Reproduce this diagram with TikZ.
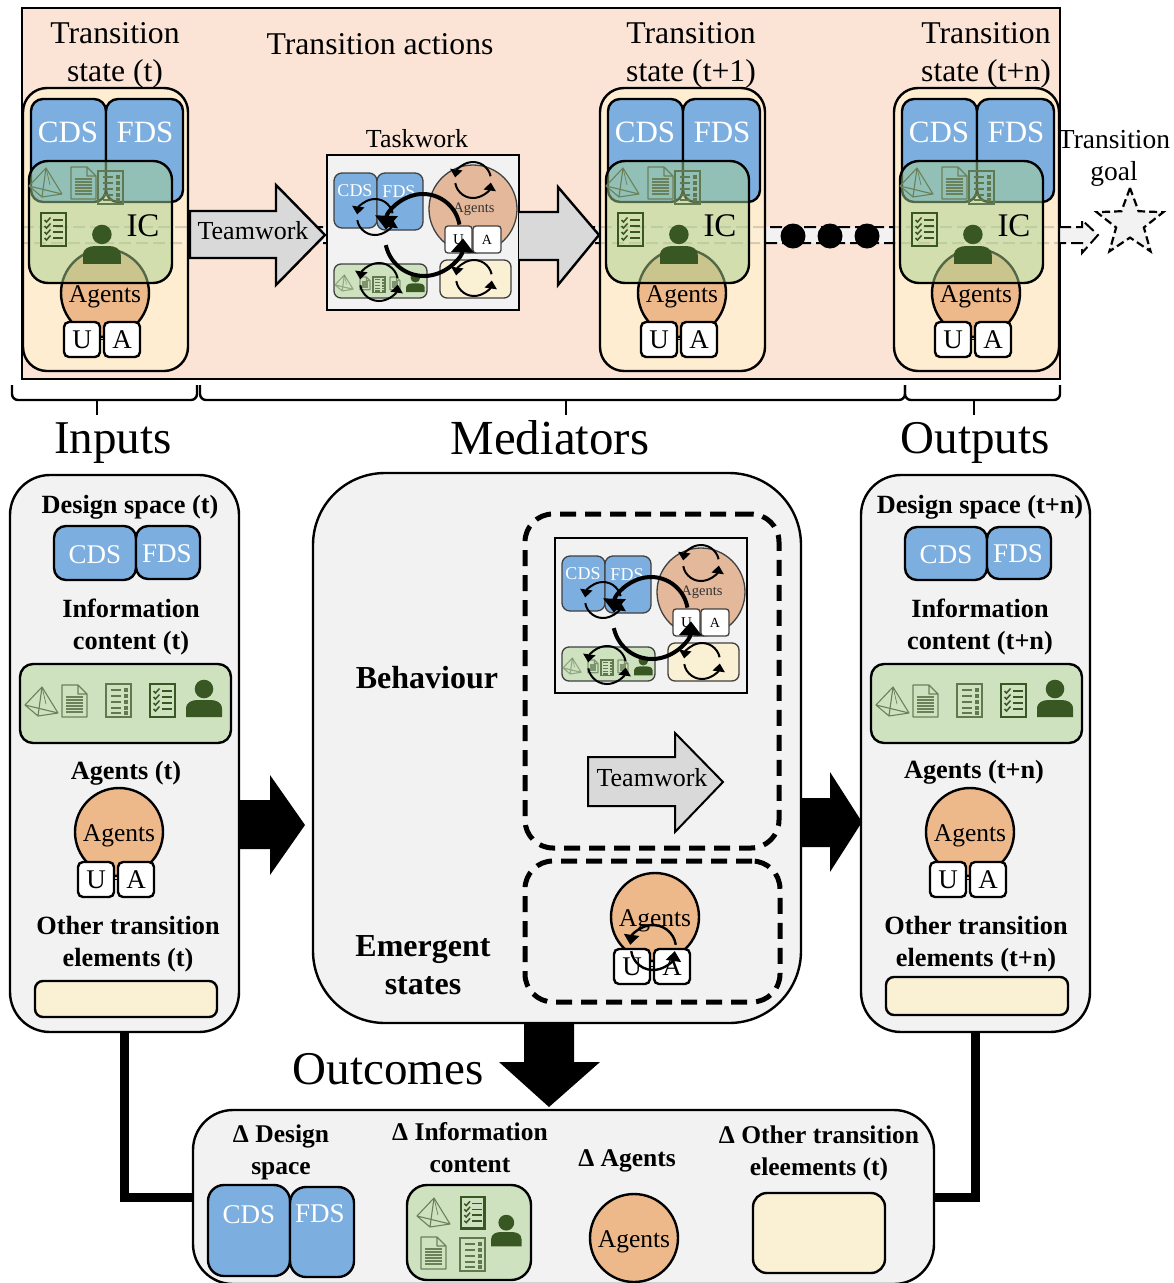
\documentclass[tikz,border=0pt]{standalone}
\usepackage{fontspec}
\setmainfont{Liberation Serif}
\usetikzlibrary{arrows.meta,shapes.geometric,calc}
\definecolor{peach}{HTML}{FBE4D6}
\definecolor{outerc}{HTML}{FFEFD0}
\definecolor{bluec}{HTML}{7CAFDF}
\definecolor{greenic}{HTML}{A9D18E}
\definecolor{greenb}{HTML}{CFE2BF}
\definecolor{agentc}{HTML}{EDB98B}
\definecolor{agentm}{HTML}{E4B89A}
\definecolor{creamc}{HTML}{FAF1D4}
\definecolor{panelc}{HTML}{F2F2F2}
\definecolor{arrowc}{HTML}{D9D9D9}
\definecolor{iconc}{HTML}{385723}
\newcommand{\fs}[2]{\fontsize{#1}{#2}\selectfont}
% style, name, x1, y1, x2, y2, text
\newcommand{\BX}[7]{%
  \pgfmathsetmacro{\bxw}{(#5)-(#3)}\pgfmathsetmacro{\bxh}{(#6)-(#4)}%
  \pgfmathsetmacro{\bxx}{((#3)+(#5))/2}\pgfmathsetmacro{\bxy}{((#4)+(#6))/2}%
  \node[#1,minimum width=\bxw,minimum height=\bxh] (#2) at (\bxx,\bxy) {#7};}
\newcommand{\TX}[5][]{\node[txt,#1] (#2) at (#3,#4) {#5};}
% prefix, left, top
\newcommand{\UA}[3]{%
  \BX{uabox}{#1u}{#2}{#3}{#2+36}{#3+35}{U}
  \BX{uabox}{#1a}{#2+40}{#3}{#2+76}{#3+35}{A}
  \draw[line width=1.5pt] (#1u) -- (#1a);}
% x, y, r, lw, tip length
\newcommand{\CYC}[5]{%
  \draw[line width=#4pt,-{Triangle[length=#5pt,width=#5pt*1.5]},shift={(#1,#2)}] (12:#3pt) arc[start angle=12,end angle=172,radius=#3pt];
  \draw[line width=#4pt,-{Triangle[length=#5pt,width=#5pt*1.5]},shift={(#1,#2)}] (190:#3pt) arc[start angle=190,end angle=352,radius=#3pt];}
\tikzset{
  x=1pt,y=-1pt,
  txt/.style={inner sep=0pt,align=center,font=\fs{26}{32}},
  bigt/.style={txt,font=\fs{31.7}{38}},
  hd/.style={txt,font=\fs{47}{54}},
  bt/.style={txt,font=\fs{26.3}{32}\bfseries},
  bt3/.style={txt,font=\fs{25.5}{32}\bfseries},
  bt2/.style={txt,font=\fs{32}{38}\bfseries},
  boxbase/.style={draw=black,line width=2.4pt,inner sep=0pt,outer sep=0pt},
  outerbox/.style={boxbase,fill=outerc,fill opacity=.85,draw opacity=1,rounded corners=24pt},
  bluebox/.style={boxbase,fill=bluec,rounded corners=12pt},
  icbox/.style={boxbase,fill=greenic,fill opacity=.5,rounded corners=19pt},
  greenbox/.style={boxbase,fill=greenb,rounded corners=13pt},
  creambox/.style={boxbase,fill=creamc,rounded corners=8pt},
  uabox/.style={boxbase,fill=white,rounded corners=5pt,font=\fs{27}{27}},
  agent/.style={boxbase,circle,fill=agentc,minimum size=88pt,font=\fs{25.5}{25},text height=18pt,text depth=0pt},
  panel/.style={boxbase,fill=panelc,rounded corners=40pt},
  wtxt/.style={txt,text=white,font=\fs{31}{31}},
  wtxts/.style={txt,text=white,font=\fs{27}{27}},
  mbox/.style={draw=black!75,line width=1.3pt,inner sep=0pt,outer sep=0pt},
  blockg/.style={draw=black,line width=2.4pt,fill=arrowc,miter limit=10},
  blockk/.style={fill=black},
  dbox/.style={draw=black,line width=5pt,dash pattern=on 16pt off 9pt,rounded corners=28pt,inner sep=0pt},
  thickline/.style={line width=9pt,line cap=butt},
  brace/.style={line width=2.4pt,rounded corners=6pt},
  pics/pyr/.style={code={
    \draw[iconc!75,line width=1.1pt,line join=round] (17,0) -- (0,18) -- (13,29) -- (33,26) -- cycle (17,0) -- (13,29) (0,18) -- (33,26);
    \draw[iconc!75,line width=.7pt] (17,0) -- (21,17);
  }},
  pics/docu/.style={code={
    \draw[iconc!75,line width=1.2pt,line join=round] (0,0) -- (16,0) -- (25,9) -- (25,32) -- (0,32) -- cycle (16,0) -- (16,9) -- (25,9);
    \foreach \yy in {12,15,18,21,24,27}{\draw[iconc!75,line width=1.1pt] (4,\yy) -- (21,\yy);}
  }},
  pics/lst/.style={code={
    \draw[iconc!80,line width=1.3pt] (0,0) rectangle (25,33);
    \foreach \yy in {6,12,18,24,29}{
      \draw[iconc!80,line width=1.2pt] (5,\yy) -- (15,\yy);
      \fill[iconc!80] (18,\yy-1.8) rectangle (22,\yy+1.8);}
  }},
  pics/chk/.style={code={
    \draw[iconc,line width=2.6pt] (0,0) rectangle (25,33);
    \foreach \yy in {7,13,19,25}{
      \draw[iconc,line width=1.5pt] (3.5,\yy) -- (5.5,\yy+2) -- (9.5,\yy-2.5);
      \draw[iconc,line width=1.5pt] (12,\yy) -- (22,\yy);}
  }},
  pics/person/.style={code={
    \fill[iconc] (18,9) circle[radius=9.3];
    \fill[iconc] (0,37) -- (0,29) .. controls (0,22) and (6,20) .. (12,20) -- (24,20) .. controls (30,20) and (36,22) .. (36,29) -- (36,37) -- cycle;
  }},
  pics/tstate/.style={code={
    \BX{outerbox}{-outer}{23}{88}{188}{371}{}
    \BX{bluebox}{-cds}{31}{99}{106}{202}{}
    \BX{bluebox}{-fds}{106}{99}{183}{202}{}
    \TX[wtxt]{-cdst}{68}{132}{CDS}
    \TX[wtxt]{-fdst}{145}{132}{FDS}
    \node[agent] (-ag) at (105,293) {Agents};
    \UA{-}{64}{322}
    \BX{icbox}{-ic}{29}{161}{172}{283}{}
    \pic at (29,168) {pyr};
    \pic at (71,167) {docu};
    \pic at (98,171) {lst};
    \pic at (41,213) {chk};
    \pic[scale=1.05] at (83,225) {person};
    \TX[font=\fs{33}{33}]{-ict}{143}{226}{IC}
  }},
  pics/taskw/.style={code={
    \BX{boxbase,fill=panelc}{-box}{0}{0}{192}{155}{}
    \BX{mbox,fill=bluec,rounded corners=8pt}{-cds}{7}{18}{50}{73}{}
    \BX{mbox,fill=bluec,rounded corners=8pt}{-fds}{50}{18}{96}{75}{}
    \TX[txt,text=white,font=\fs{18}{18}]{-cdst}{28}{36}{CDS}
    \TX[txt,text=white,font=\fs{18}{18}]{-fdst}{72}{37}{FDS}
    \node[mbox,circle,fill=agentm,minimum size=88pt] (-ag) at (146,54) {};
    \TX[font=\fs{14.5}{14.5},text=black!80]{-agt}{147}{54}{Agents}
    \BX{mbox,fill=white,rounded corners=3pt,font=\fs{15}{15}}{-u}{118}{71}{145}{98}{U}
    \BX{mbox,fill=white,rounded corners=3pt,font=\fs{14}{14}}{-a}{146}{71}{174}{98}{A}
    \BX{mbox,fill=greenb,rounded corners=7pt}{-gr}{7}{109}{100}{143}{}
    \BX{mbox,fill=creamc,rounded corners=7pt}{-cr}{113}{105}{184}{143}{}
    \pic[scale=.55,opacity=.6] at (8,120) {pyr};
    \pic[scale=.4,opacity=.8] at (33,122) {docu};
    \pic[scale=.48] at (46,122) {lst};
    \pic[scale=.4,opacity=.8] at (63,122) {docu};
    \pic[scale=.52] at (79,118) {person};
    \CYC{146}{25}{18}{2}{8}
    \CYC{48}{62}{18}{2}{8}
    \CYC{52}{127}{19}{2}{8}
    \CYC{147}{123}{18}{2}{8}
    \draw[line width=4pt,-{Triangle[length=14pt,width=22pt]},shift={(96,76)}] (10:37pt) arc[start angle=10,end angle=178,radius=37pt];
    \draw[line width=4pt,-{Triangle[length=14pt,width=22pt]},shift={(97,82)}] (192:39pt) arc[start angle=192,end angle=358,radius=39pt];
  }}
}
\begin{document}
\begin{tikzpicture}
\clip (0,0) rectangle (1174,1283);
\fill[white] (0,0) rectangle (1174,1283);
% top band
\BX{boxbase,fill=peach}{band}{22}{8}{1060}{379}{}
\draw[line width=2pt,dash pattern=on 12pt off 5pt,fill=panelc]
  (22,227) -- (1082,227) -- (1082,220) -- (1098,235) -- (1082,253) -- (1082,243) -- (22,243);
\node[star,star points=5,star point ratio=2.4,draw=black,line width=2.2pt,dash pattern=on 8pt off 4pt,fill=panelc,minimum size=70pt,inner sep=0pt] (goal) at (1130,223) {};
\pic (s1) at (0,0) {tstate};
\pic (s2) at (577,0) {tstate};
\pic (s3) at (871,0) {tstate};
\TX[bigt]{t1}{115}{55}{Transition\\state (t)}
\TX[bigt]{t2}{691}{55}{Transition\\state (t+1)}
\TX[bigt]{t3}{986}{55}{Transition\\state (t+n)}
\TX[bigt]{tact}{380}{44}{Transition actions}
\TX[font=\fs{27.5}{32}]{tgoal}{1114}{158}{Transition\\goal}
\draw[blockg] (190,211) -- (276,211) -- (276,185) -- (325,235) -- (276,285) -- (276,258) -- (190,258) -- cycle;
\TX{tw1}{253}{231}{Teamwork}
\TX{tk1}{417}{139}{Taskwork}
\pic (tk) at (327,155) {taskw};
\draw[blockg] (519,212) -- (558,212) -- (558,187) -- (599,235) -- (558,285) -- (558,260) -- (519,260);
\foreach \i/\xx in {1/793,2/830,3/867}{\node[circle,fill=black,minimum size=25pt,inner sep=0pt] (dot\i) at (\xx,236) {};}
% braces
\draw[brace] (12,385) -- (12,400) -- (197,400) -- (197,385);
\draw[brace] (200,385) -- (200,400) -- (905,400) -- (905,385);
\draw[brace] (905,385) -- (905,400) -- (1060,400) -- (1060,385);
\draw[line width=2.4pt] (97,400) -- (97,415) (566,400) -- (566,415) (974,400) -- (974,415);
\TX[hd]{hin}{113}{443}{Inputs}
\TX[hd,font=\fs{49}{54}]{hmed}{550}{438}{Mediators}
\TX[hd]{hout}{975}{443}{Outputs}
\TX[hd]{hoc}{388}{1069}{Outcomes}
% panels
\BX{panel}{inp}{10}{475}{239}{1032}{}
\BX{panel}{outp}{861}{475}{1090}{1032}{}
\BX{panel,rounded corners=72pt}{med}{313}{473}{801}{1023}{}
\BX{panel}{outc}{193}{1110}{934}{1284}{}
\draw[thickline] (inp.south) |- (outc.west);
\draw[thickline] (outp.south) |- (outc.east);
% inputs panel
\TX[bt]{i1}{130}{507}{Design space (t)}
\BX{bluebox}{icds}{54}{526}{136}{580}{}
\BX{bluebox}{ifds}{136}{526}{200}{579}{}
\TX[wtxts]{icdst}{95}{555}{CDS}
\TX[wtxts]{ifdst}{167}{554}{FDS}
\TX[bt]{i2}{131}{627}{Information\\content (t)}
\BX{greenbox}{igr}{20}{664}{231}{743}{}
\pic at (25,687) {pyr};
\pic at (62,685) {docu};
\pic at (106,684) {lst};
\pic at (150,684) {chk};
\pic at (186,680) {person};
\TX[bt]{i3}{126}{773}{Agents (t)}
\node[agent] (iag) at (119,832) {Agents};
\UA{i}{78}{862}
\TX[bt]{i4}{128}{944}{Other transition\\elements (t)}
\BX{creambox}{icr}{35}{981}{217}{1017}{}
% outputs panel
\TX[bt]{o1}{980}{507}{Design space (t+n)}
\BX{bluebox}{ocds}{905}{527}{987}{580}{}
\BX{bluebox}{ofds}{987}{527}{1051}{579}{}
\TX[wtxts]{ocdst}{946}{555}{CDS}
\TX[wtxts]{ofdst}{1018}{554}{FDS}
\TX[bt]{o2}{980}{627}{Information\\content (t+n)}
\BX{greenbox}{ogr}{871}{664}{1082}{743}{}
\pic at (876,687) {pyr};
\pic at (913,685) {docu};
\pic at (957,684) {lst};
\pic at (1001,684) {chk};
\pic at (1037,680) {person};
\TX[bt]{o3}{974}{772}{Agents (t+n)}
\node[agent] (oag) at (970,832) {Agents};
\UA{o}{930}{862}
\TX[bt]{o4}{976}{944}{Other transition\\elements (t+n)}
\BX{creambox}{ocr}{886}{977}{1068}{1015}{}
% mediators
\TX[bt2]{m1}{427}{678}{Behaviour}
\TX[bt2]{m2}{423}{965}{Emergent\\states}
\BX{dbox}{d1}{525}{514}{779}{848}{}
\BX{dbox}{d2}{525}{861}{780}{1002}{}
\pic (tk2) at (555,538) {taskw};
\draw[blockg,line width=2pt] (588,757) -- (675,757) -- (675,733) -- (723,782) -- (675,832) -- (675,806) -- (588,806) -- cycle;
\TX{tw2}{652}{778}{Teamwork}
\node[agent] (mag) at (655,917) {Agents};
\UA{m}{614}{949}
\draw[line width=2.4pt,-{Triangle[length=10pt,width=15pt]},shift={(653,948)}] (8:23pt) arc[start angle=8,end angle=172,radius=23pt];
\draw[line width=2.4pt,-{Triangle[length=10pt,width=15pt]},shift={(653,948)}] (188:22pt) arc[start angle=188,end angle=352,radius=22pt];
% black arrows
\fill[blockk] (239,800) -- (270,800) -- (270,775) -- (305,825) -- (270,875) -- (270,849) -- (239,849) -- cycle;
\fill[blockk] (801,798) -- (830,798) -- (830,772) -- (862,822) -- (830,872) -- (830,847) -- (801,847) -- cycle;
\fill[blockk] (524,1024) -- (574,1024) -- (574,1062) -- (600,1062) -- (549,1107) -- (499,1062) -- (524,1062) -- cycle;
% outcomes panel
\TX[bt3]{c1}{281}{1152}{Δ Design\\space}
\TX[bt3]{c2}{470}{1148}{Δ Information\\content}
\TX[bt3]{c3}{627}{1161}{Δ Agents}
\TX[bt3]{c4}{819}{1153}{Δ Other transition\\eleements (t)}
\BX{bluebox,rounded corners=16pt}{ccds}{208}{1185}{290}{1276}{}
\BX{bluebox,rounded corners=16pt}{cfds}{290}{1187}{354}{1277}{}
\TX[wtxts]{ccdst}{249}{1215}{CDS}
\TX[wtxts]{cfdst}{320}{1214}{FDS}
\BX{greenbox,rounded corners=20pt}{cgr}{407}{1185}{531}{1280}{}
\pic at (417,1198) {pyr};
\pic[scale=.95] at (461,1197) {chk};
\pic[scale=.85] at (491,1215) {person};
\pic at (421,1237) {docu};
\pic at (460,1238) {lst};
\node[agent] (cag) at (634,1238) {Agents};
\BX{creambox,rounded corners=14pt}{ccr}{753}{1193}{885}{1273}{}
\end{tikzpicture}
\end{document}
